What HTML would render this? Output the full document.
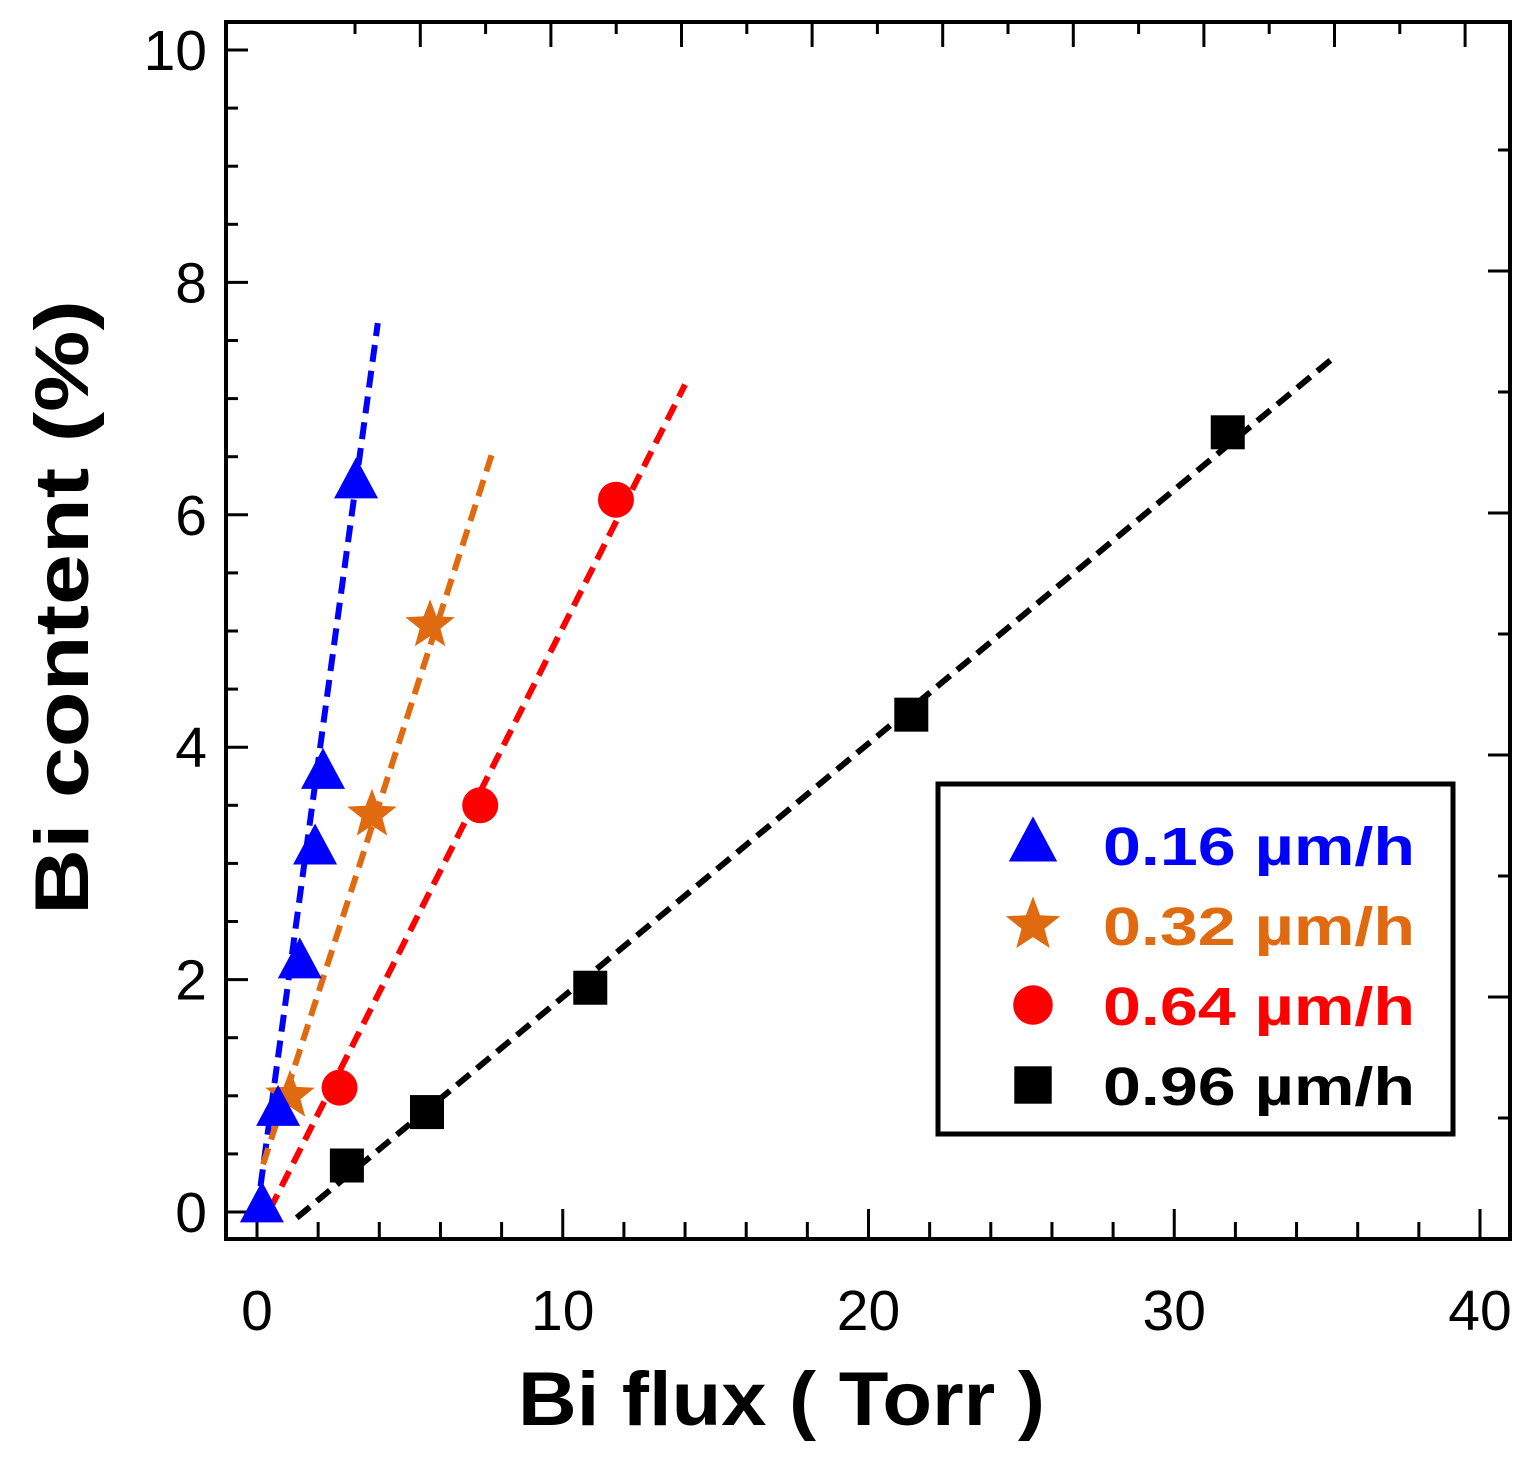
<!DOCTYPE html>
<html><head><meta charset="utf-8"><style>
html,body{margin:0;padding:0;background:#fff;}
svg{display:block;font-family:"Liberation Sans",Arial,sans-serif;}
</style></head><body>
<svg id="chart" width="1533" height="1465" viewBox="0 0 1533 1465">
<g id="axes"></g>
<g id="lines"></g>
<g id="marks"></g>
<g id="legend"></g>
<text x="518" y="1425" textLength="527" lengthAdjust="spacingAndGlyphs" font-size="76" font-weight="bold">Bi flux ( Torr )</text>
<text transform="translate(88,915) rotate(-90)" textLength="615" lengthAdjust="spacingAndGlyphs" font-size="76" font-weight="bold">Bi content (%)</text>
</svg>
<script>
const xTicks=[0,10,20,30,40];
const yTicks=[0,2,4,6,8,10];
const seriesNames=["0.16 µm/h","0.32 µm/h","0.64 µm/h","0.96 µm/h"];
const seriesColors=["#0000ff","#e06a10","#ff0000","#000000"];
const seriesShapes=["triangle","star","circle","square"];
const blueX=[0.16,0.69,1.4,1.9,2.16,3.24];
const blueY=[0.04,0.87,2.14,3.12,3.77,6.27];
const orangeX=[1.08,3.76,5.66];
const orangeY=[1.0,3.42,5.05];
const redX=[2.7,7.3,11.74];
const redY=[1.07,3.5,6.13];
const blackX=[2.94,5.56,10.9,21.4,31.75];
const blackY=[0.40,0.86,1.93,4.28,6.71];
const fitX0=[0,0.2,0.42,1.3];
const fitY0=[0,0.41,0.02,-0.05];
const fitX1=[3.95,7.68,14.0,35.2];
const fitY1=[7.65,6.52,7.12,7.35];

const NS="http://www.w3.org/2000/svg";
const X0=257,XS=(1480-257)/40,Y0=1212,YS=(1212-50)/10;
const L=226,R=1510,T=22,B=1239;
function sx(v){return X0+v*XS;}
function sy(v){return Y0-v*YS;}
function mk(tag,attrs,parent){const e=document.createElementNS(NS,tag);for(const k in attrs)e.setAttribute(k,attrs[k]);parent.appendChild(e);return e;}
const axes=document.getElementById('axes');
let fr=mk('rect',{x:L,y:T,width:R-L,height:B-T,fill:'none',stroke:'#000','stroke-width':4},axes);


for(let v=0;v<=40;v+=2){
  const big=v%10===0;
  let t=mk('line',{x1:sx(v),x2:sx(v),y1:B,y2:B-(big?30:17),stroke:'#000','stroke-width':3},axes);
  
  
}
xTicks.forEach(v=>{
  let t=mk('text',{x:sx(v),y:1330,'text-anchor':'middle','font-size':57},axes);
  t.textContent=v;
  
  
});
for(let v=0;v<=10.001;v+=0.5){
  const big=Math.abs(v-Math.round(v/2)*2)<0.01;
  let t=mk('line',{x1:L,x2:L+(big?22:12),y1:sy(v),y2:sy(v),stroke:'#000','stroke-width':3},axes);
  
  
}
yTicks.forEach(v=>{
  let t=mk('text',{x:207,y:sy(v)+20,'text-anchor':'end','font-size':57},axes);
  t.textContent=v;
  
  
});
for(let i=0;i<18;i++){
  const x=355+65.3*i; if(x>R-5)break;
  let t=mk('line',{x1:x,x2:x,y1:T,y2:T+(i%2?25:12),stroke:'#000','stroke-width':3},axes);
  
  
}
for(let i=-8;i<3;i++){
  const y=997+121*i; if(y<T+10||y>B-10)continue;
  let t=mk('line',{x1:R,x2:R-(i%2===0?22:12),y1:y,y2:y,stroke:'#000','stroke-width':3},axes);
  
  
}
const lines=document.getElementById('lines');
for(let i=0;i<4;i++){
  let l=mk('line',{x1:sx(fitX0[i]),y1:sy(fitY0[i]),x2:sx(fitX1[i]),y2:sy(fitY1[i]),stroke:seriesColors[i],'stroke-width':6,'stroke-dasharray':'17 9'},lines);
  
  
}
function marker(shape,cx,cy,color,parent,s){
  s=s||1;let e;
  if(shape==='triangle'){e=mk('polygon',{points:`${cx},${cy-26*s} ${cx-22*s},${cy+15*s} ${cx+22*s},${cy+15*s}`,fill:color},parent);}
  else if(shape==='circle'){e=mk('circle',{cx:cx,cy:cy,r:18*s,fill:color},parent);}
  else if(shape==='square'){e=mk('rect',{x:cx-17*s,y:cy-17*s,width:34*s,height:34*s,fill:color},parent);}
  else{let p=[];for(let k=0;k<10;k++){const r=(k%2?11:26)*s,a=-Math.PI/2+k*Math.PI/5;p.push((cx+r*Math.cos(a)).toFixed(1)+','+(cy+r*Math.sin(a)).toFixed(1));}
    e=mk('polygon',{points:p.join(' '),fill:color},parent);}
  return e;
}
const marks=document.getElementById('marks');
const XS_=[blueX,orangeX,redX,blackX],YS_=[blueY,orangeY,redY,blackY];
for(let i=3;i>=0;i--){
  XS_[i].forEach((x,j)=>{
    let m=marker(seriesShapes[i],sx(x),sy(YS_[i][j]),seriesColors[i],marks);
    
    
  });
}
const lg=document.getElementById('legend');
let box=mk('rect',{x:938,y:784,width:515,height:350,fill:'#fff',stroke:'#000','stroke-width':5},lg);


const ly=[845,925,1005,1085];
for(let i=0;i<4;i++){
  let m=marker(seriesShapes[i],1033,ly[i],seriesColors[i],lg,1.1);
  
  
  let t=mk('text',{x:1103,y:ly[i]+20,'font-size':54,'font-weight':'bold',fill:seriesColors[i],textLength:312,lengthAdjust:'spacingAndGlyphs'},lg);
  t.textContent=seriesNames[i];
  
  
}
</script>
</body></html>
